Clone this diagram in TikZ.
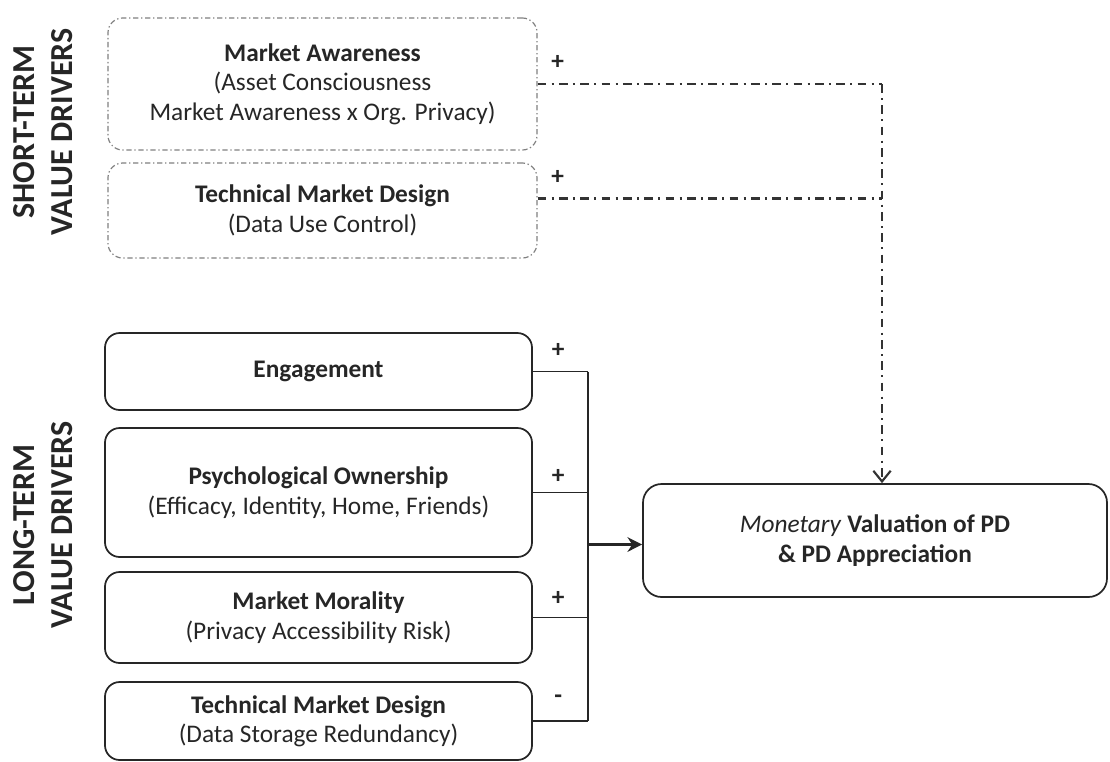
\documentclass[tikz,border=0pt]{standalone}
\usepackage{fontspec}
\setmainfont{Carlito}
\usetikzlibrary{arrows.meta}

\begin{document}
\begin{tikzpicture}[x=0.75pt, y=-0.75pt,
        every node/.style={font=\fontsize{19}{22}\selectfont, align=center, text=black!85},
        shortbox/.style={draw=black!50, line width=0.9pt, dash pattern=on 4pt off 2pt on 1pt off 2pt,
                rounded corners=11pt, minimum width=321.75pt, inner sep=0pt},
        longbox/.style={draw=black!85, line width=1.3pt, rounded corners=11pt,
                minimum width=320.25pt, inner sep=0pt},
        sdash/.style={draw=black!80, line width=1.6pt, dash pattern=on 6.5pt off 4pt on 1.5pt off 4pt},
        link/.style={draw=black!85, line width=1.4pt},
        sign/.style={font=\fontsize{19}{22}\selectfont\bfseries},
        side/.style={rotate=90, font=\fontsize{24}{29}\selectfont\bfseries}]

        \useasboundingbox (0, 0) rectangle (1110, 761);

        % side labels
        \node[side] (st) at (43, 132) {SHORT-TERM\\VALUE DRIVERS};
        \node[side] (lt) at (43, 525) {LONG-TERM\\VALUE DRIVERS};

        % short-term drivers
        \node[shortbox, minimum height=99pt] (sa) at (322.5, 84)
                {\textbf{Market Awareness}\\(Asset Consciousness\\Market Awareness x Org. Privacy)};
        \node[shortbox, minimum height=71.25pt] (sd) at (322.5, 210.5)
                {\textbf{Technical Market Design}\\(Data Use Control)};

        % long-term drivers
        \node[longbox, minimum height=57.75pt] (eng) at (318.5, 371.5) {\textbf{Engagement}};
        \node[longbox, minimum height=96.75pt] (own) at (318.5, 492.5)
                {\textbf{Psychological Ownership}\\(Efficacy, Identity, Home, Friends)};
        \node[longbox, minimum height=68.25pt] (mor) at (318.5, 617.5)
                {\textbf{Market Morality}\\(Privacy Accessibility Risk)};
        \node[longbox, minimum height=58.5pt] (tmd) at (318.5, 721)
                {\textbf{Technical Market Design}\\(Data Storage Redundancy)};

        % outcome
        \node[longbox, minimum width=348pt, minimum height=84.75pt, rounded corners=14pt,
                font=\fontsize{19}{22}\selectfont\bfseries] (tgt) at (875, 540.5)
                {\textit{\mdseries Monetary} Valuation of PD\\\& PD Appreciation};

        % short-term links
        \coordinate (sj) at ([xshift=5.25pt]tgt.north |- sa.east);
        \draw[sdash] (sa.east) -- (sj);
        \draw[sdash] ([yshift=9pt]sd.east) -- ([yshift=9pt]sd.east -| sj);
        \draw[sdash, -{Straight Barb[length=8pt, width=13pt, line width=1.6pt]}] (sj) -- (sj |- tgt.north);

        \node[sign] (ps1) at ([shift={(15pt, 16pt)}]sa.east) {+};
        \node[sign] (ps2) at ([shift={(15pt, 25pt)}]sd.east) {+};

        % long-term links
        \coordinate (bus) at (588, 0);
        \foreach \b in {eng, own, mor, tmd}{
                \draw[link] (\b.east) -- (\b.east -| bus);
            }
        \draw[link] (eng.east -| bus) -- (tmd.east -| bus);
        \draw[link, line width=2.2pt, -{Stealth[length=11pt, width=11pt]}] ([yshift=-3pt]tgt.west -| bus) -- ([yshift=-3pt]tgt.west);

        \node[sign] (pl1) at ([shift={(19pt, 16pt)}]eng.east) {+};
        \node[sign] (pl2) at ([shift={(19pt, 12pt)}]own.east) {+};
        \node[sign] (pl3) at ([shift={(19pt, 14pt)}]mor.east) {+};
        \node[sign] (pl4) at ([shift={(19pt, 16pt)}]tmd.east) {-};

    \end{tikzpicture}
\end{document}
